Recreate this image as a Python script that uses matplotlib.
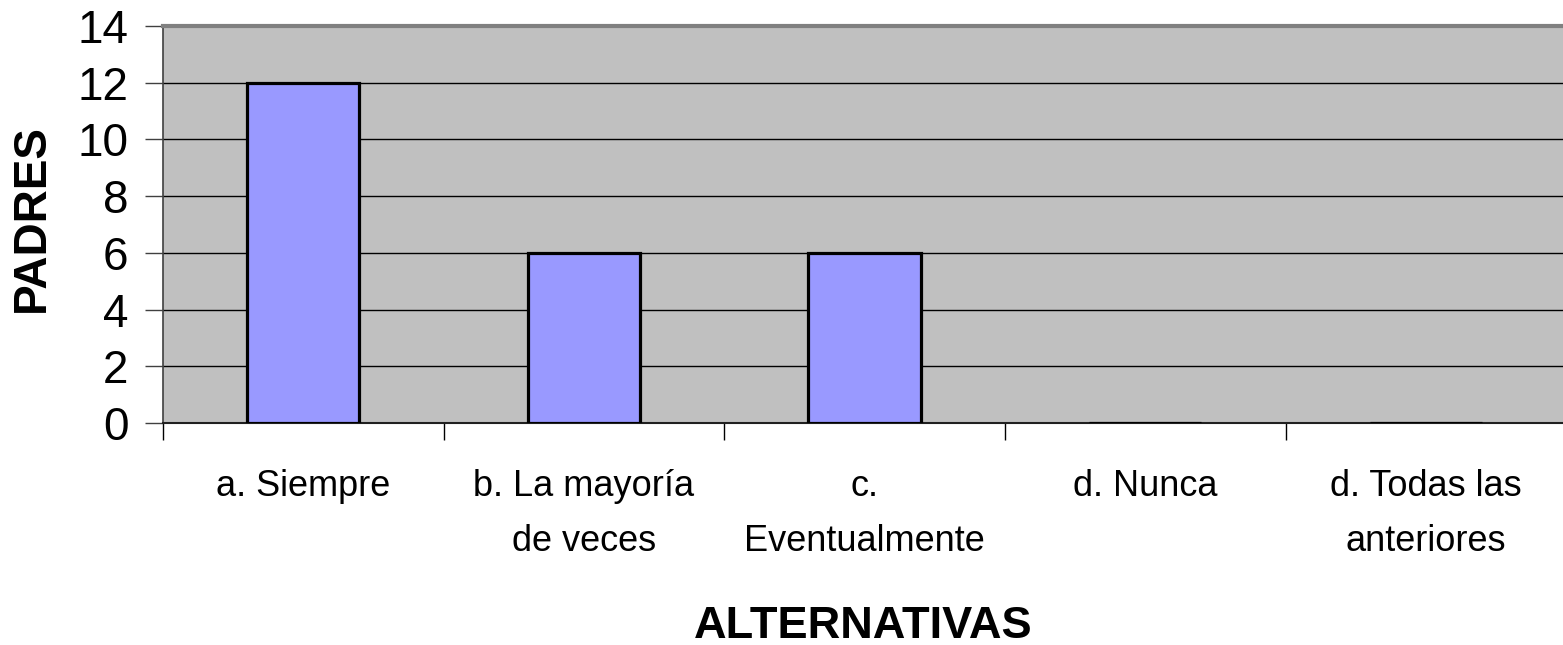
import matplotlib
matplotlib.use("Agg")
import matplotlib.pyplot as plt
import numpy as np

plt.rcParams['font.family'] = ['Liberation Sans', 'DejaVu Sans']

categories = ["a. Siempre", "b. La mayoría\nde veces", "c.\nEventualmente",
              "d. Nunca", "d. Todas las\nanteriores"]
padres = [12, 6, 6, 0, 0]
y_ticks = [0, 2, 4, 6, 8, 10, 12, 14]

fig = plt.figure(figsize=(15.63, 6.45), dpi=100)
ax = fig.add_axes([163 / 1563, 1 - 423 / 645, 1 - 163 / 1563 + 0.002, (423 - 26) / 645])
ax.set_facecolor("#C0C0C0")

x = np.arange(len(categories))
ax.bar(x, padres, width=0.40, color="#9999FF", edgecolor="black",
       linewidth=2.3, zorder=3)

ax.set_xlim(-0.5, len(categories) - 0.5)
ax.set_ylim(0, 14)
ax.set_yticks(y_ticks)
ax.set_yticklabels([str(v) for v in y_ticks], fontsize=33)
for v in y_ticks[1:]:
    ax.axhline(v, color="black", linewidth=1.0, zorder=1)

# category labels centred under each bar, ticks between categories
ax.set_xticks(np.arange(-0.5, len(categories), 1.0))
ax.set_xticklabels([])
ax.tick_params(axis="x", length=12, width=1, color="black", direction="out")
ax.tick_params(axis="y", length=13, width=1, color="#404040", direction="out", pad=12)
for i, lab in enumerate(categories):
    ax.text(i, -1.62, lab, ha="center", va="top", fontsize=26,
            linespacing=1.75, transform=ax.transData)

ax.spines["top"].set_color("#808080")
ax.spines["top"].set_linewidth(3)
ax.spines["left"].set_color("#404040")
ax.spines["left"].set_linewidth(1.2)
ax.spines["bottom"].set_color("#202020")
ax.spines["bottom"].set_linewidth(1.5)
ax.spines["right"].set_visible(False)

fig.text((163 + 1563) / 2 / 1563, 1 - 627 / 645, "ALTERNATIVAS", ha="center",
         va="center", fontsize=32.5, fontweight="bold")
fig.text(32 / 1563, 1 - 218 / 645, "PADRES", ha="center", va="center",
         rotation=90, fontsize=33, fontweight="bold")

fig.savefig("out.png", dpi=100, facecolor="white")
